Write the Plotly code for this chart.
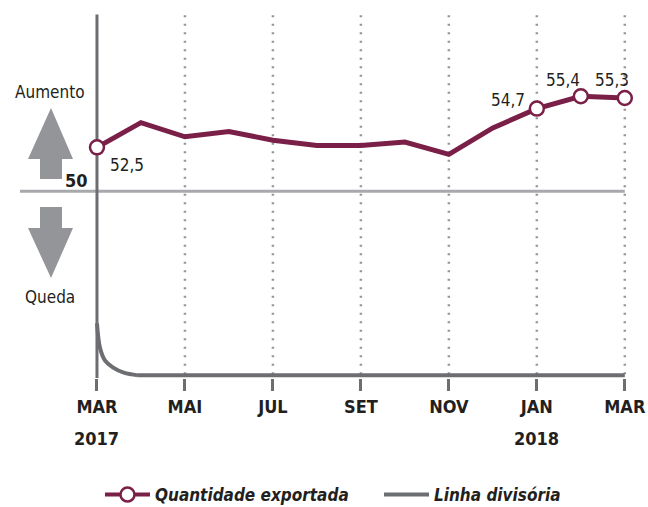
import plotly.graph_objects as go

# data
MONTHS = list(range(13))  # Mar 2017 .. Mar 2018
QUANTIDADE = [52.5, 53.9, 53.1, 53.4, 52.9, 52.6, 52.6, 52.8, 52.1, 53.6, 54.7, 55.4, 55.3]
LABELED = [0, 10, 11, 12]
TICK_VALS = [0, 2, 4, 6, 8, 10, 12]
TICK_TEXT = ["MAR", "MAI", "JUL", "SET", "NOV", "JAN", "MAR"]
YEAR_POS = [0, 10]
YEAR_TEXT = ["2017", "2018"]
# divider line (month index, value)
LINHA_CURVE_X = [0, 0.07, 0.18, 0.36, 0.61, 0.93]
LINHA_CURVE_Y = [42.5, 41.1, 40.4, 40.0, 39.7, 39.55]
LINHA_FLAT_X = [0.93, 12]
LINHA_FLAT_Y = [39.55, 39.55]
REF = 50

MAROON = "#7a1f47"
DARK_GRAY = "#6d6e71"
LIGHT_GRAY = "#a7a9ac"
ARROW_GRAY = "#939598"
TEXT = "#231f20"
FONT = "Liberation Sans Narrow, DejaVu Sans Condensed, Arial Narrow, sans-serif"

X_RANGE = [-1.75, 12.3]
Y_RANGE = [39.4, 60.3]
L, R, T, B = 20, 10, 10, 129
W, H = 648, 507
PX_PER_X = (W - L - R) / (X_RANGE[1] - X_RANGE[0])
PX_PER_Y = (H - T - B) / (Y_RANGE[1] - Y_RANGE[0])


def px_x(px):
    return X_RANGE[0] + (px - L) / PX_PER_X


def px_y(py):
    return Y_RANGE[1] - (py - T) / PX_PER_Y


def fmt(v):
    return f"{v:.1f}".replace(".", ",")


fig = go.Figure()

# dotted verticals
for v in TICK_VALS[1:]:
    fig.add_shape(type="line", x0=v, x1=v, y0=60.0, y1=LINHA_FLAT_Y[-1], xref="x", yref="y",
                  line=dict(color=ARROW_GRAY, width=2.5, dash="2px,6.5px"), layer="below")

# reference line at 50
fig.add_shape(type="line", x0=X_RANGE[0], x1=12, y0=REF, y1=REF, xref="x", yref="y",
              line=dict(color=LIGHT_GRAY, width=3), layer="below")
# vertical start line
fig.add_shape(type="line", x0=0, x1=0, y0=60.05, y1=px_y(388), xref="x", yref="y",
              line=dict(color=DARK_GRAY, width=3), layer="below")


def arrow_path(pts):
    return "M" + " L".join(f"{px_x(a)},{px_y(b)}" for a, b in pts) + " Z"


up = [(51, 108), (73, 159), (62, 159), (62, 179), (40, 179), (40, 159), (28, 159)]
down = [(40, 207), (62, 207), (62, 228), (73, 228), (51, 278), (28, 228), (40, 228)]
for pts in (up, down):
    fig.add_shape(type="path", path=arrow_path(pts), xref="x", yref="y",
                  fillcolor=ARROW_GRAY, line=dict(width=0))

fig.add_trace(go.Scatter(
    x=LINHA_CURVE_X, y=LINHA_CURVE_Y, mode="lines",
    line=dict(color=DARK_GRAY, width=4, shape="spline"),
    showlegend=False, hoverinfo="skip"))
fig.add_trace(go.Scatter(
    x=LINHA_FLAT_X, y=LINHA_FLAT_Y, mode="lines",
    line=dict(color=DARK_GRAY, width=4),
    showlegend=False, hoverinfo="skip"))

fig.add_trace(go.Scatter(
    x=MONTHS, y=QUANTIDADE, mode="lines", line=dict(color=MAROON, width=5),
    showlegend=False))
fig.add_trace(go.Scatter(
    x=[MONTHS[i] for i in LABELED], y=[QUANTIDADE[i] for i in LABELED], mode="markers",
    marker=dict(size=14, color="white", line=dict(color=MAROON, width=2.5)),
    showlegend=False, cliponaxis=False))

# legend entries
fig.add_trace(go.Scatter(
    x=[None], y=[None], mode="lines+markers", name="Quantidade exportada",
    line=dict(color=MAROON, width=4),
    marker=dict(size=14, color="white", line=dict(color=MAROON, width=2.5))))
fig.add_trace(go.Scatter(
    x=[None], y=[None], mode="lines", name="Linha divisória",
    line=dict(color=DARK_GRAY, width=4)))

shifts = {0: (30, -18), 10: (-29, 9), 11: (-18, 16), 12: (-13, 18)}
for i in LABELED:
    dx, dy = shifts[i]
    fig.add_annotation(x=MONTHS[i], y=QUANTIDADE[i], text=fmt(QUANTIDADE[i]), showarrow=False,
                       xshift=dx, yshift=dy, font=dict(size=17, color=TEXT, family=FONT))

# year line under the month ticks
for pos, yr in zip(YEAR_POS, YEAR_TEXT):
    fig.add_annotation(x=pos, xref="x", y=0, yref="paper", yanchor="top", yshift=-48,
                       text=f"<b>{yr}</b>", showarrow=False,
                       font=dict(size=18, color=TEXT, family=FONT))

fig.add_annotation(x=px_x(50), y=px_y(92), text="Aumento", showarrow=False,
                   font=dict(size=17, color=TEXT, family=FONT))
fig.add_annotation(x=px_x(50), y=px_y(297), text="Queda", showarrow=False,
                   font=dict(size=17, color=TEXT, family=FONT))
fig.add_annotation(x=px_x(90), y=px_y(180), text="<b>50</b>", showarrow=False, xanchor="right",
                   font=dict(size=18, color=TEXT, family=FONT))

fig.update_layout(
    width=W, height=H,
    margin=dict(l=L, r=R, t=T, b=B),
    plot_bgcolor="white", paper_bgcolor="white",
    font=dict(family=FONT, color=TEXT),
    xaxis=dict(range=X_RANGE, tickvals=TICK_VALS, ticktext=TICK_TEXT, showgrid=False,
               zeroline=False, showline=False, ticks="outside", ticklen=12, tickwidth=3,
               automargin=False,
               tickcolor=DARK_GRAY, tickfont=dict(size=18, color=TEXT, family=FONT, weight="bold")),
    yaxis=dict(range=Y_RANGE, visible=False, automargin=False),
    legend=dict(orientation="h", xref="container", yref="container",
                x=100 / W, xanchor="left", y=(H - 495) / H, yanchor="middle",
                font=dict(size=17, color=TEXT, family=FONT, weight="bold", style="italic"),
                itemwidth=45, entrywidth=219),
    hovermode=False,
)

fig.write_html("out.html", config={"displayModeBar": False},
               post_script="document.body.style.margin='0';")
